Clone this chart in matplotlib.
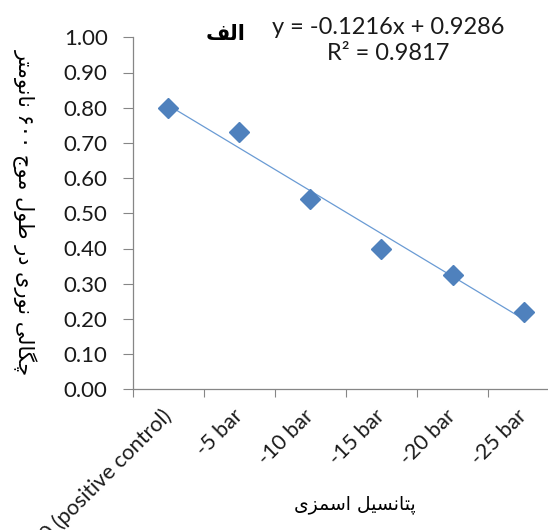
import matplotlib
matplotlib.use("Agg")
import matplotlib.pyplot as plt
import numpy as np

# ---- data ----
categories = ["0 (positive control)", "-5 bar", "-10 bar", "-15 bar", "-20 bar", "-25 bar"]
od_values = [0.80, 0.73, 0.54, 0.40, 0.325, 0.22]
slope = -0.1216
intercept = 0.9286
r_squared = 0.9817
y_ticks = [0.0, 0.1, 0.2, 0.3, 0.4, 0.5, 0.6, 0.7, 0.8, 0.9, 1.0]

title_fa = "الف"
xlabel_fa = "پتانسیل اسمزی"
ylabel_fa = "چگالی نوری در طول موج ۶۰۰ نانومتر"

# ---- minimal Persian shaping (presentation forms) + visual ordering ----
FORMS = {  # isolated, final, initial, medial
    "ا": ("\uFE8D", "\uFE8E", None, None),
    "د": ("\uFEA9", "\uFEAA", None, None),
    "ر": ("\uFEAD", "\uFEAE", None, None),
    "ز": ("\uFEAF", "\uFEB0", None, None),
    "و": ("\uFEED", "\uFEEE", None, None),
    "ل": ("\uFEDD", "\uFEDE", "\uFEDF", "\uFEE0"),
    "ف": ("\uFED1", "\uFED2", "\uFED3", "\uFED4"),
    "پ": ("\uFB56", "\uFB57", "\uFB58", "\uFB59"),
    "ت": ("\uFE95", "\uFE96", "\uFE97", "\uFE98"),
    "ن": ("\uFEE5", "\uFEE6", "\uFEE7", "\uFEE8"),
    "س": ("\uFEB1", "\uFEB2", "\uFEB3", "\uFEB4"),
    "ی": ("\uFBFC", "\uFBFD", "\uFBFE", "\uFBFF"),
    "م": ("\uFEE1", "\uFEE2", "\uFEE3", "\uFEE4"),
    "چ": ("\uFB7A", "\uFB7B", "\uFB7C", "\uFB7D"),
    "گ": ("\uFB92", "\uFB93", "\uFB94", "\uFB95"),
    "ط": ("\uFEC1", "\uFEC2", "\uFEC3", "\uFEC4"),
    "ج": ("\uFE9D", "\uFE9E", "\uFE9F", "\uFEA0"),
}


def dual(c):
    return c in FORMS and FORMS[c][2] is not None


def shape_fa(text):
    out = []
    for i, c in enumerate(text):
        if c not in FORMS:
            out.append(c)
            continue
        prev_c = text[i - 1] if i > 0 else ""
        next_c = text[i + 1] if i + 1 < len(text) else ""
        join_prev = dual(prev_c)
        join_next = dual(c) and next_c in FORMS
        iso, fin, ini, med = FORMS[c]
        if join_prev and join_next:
            out.append(med)
        elif join_prev:
            out.append(fin)
        elif join_next:
            out.append(ini)
        else:
            out.append(iso)
    # right-to-left: reverse, keeping digit runs in reading order
    rev = out[::-1]
    res, run = [], []
    for ch in rev:
        if ch.isdigit():
            run.append(ch)
        else:
            if run:
                res.extend(run[::-1])
                run = []
            res.append(ch)
    if run:
        res.extend(run[::-1])
    return "".join(res)


# ---- figure ----
plt.rcParams["font.family"] = ["Lato", "DejaVu Sans"]
fig = plt.figure(figsize=(5.48, 5.30), dpi=100)
ax = fig.add_axes([132.7 / 548, 140.7 / 530, 426.5 / 548, 352 / 530])

x = np.arange(1, len(categories) + 1)
axis_grey = "#868686"
label_color = "#1a1a1a"

# trendline from the fitted equation
xf = np.array([x[0], x[-1]])
ax.plot(xf, slope * xf + intercept, color="#6A9BD4", lw=0.9, zorder=2)
ax.plot(x, od_values, linestyle="none", marker="D", markersize=10.5,
        color="#4F81BD", markeredgecolor="#4F81BD", zorder=3)

ax.set_xlim(0.5, len(categories) + 0.5)
ax.set_ylim(0, 1)
ax.set_yticks(y_ticks)
ax.set_yticklabels([f"{v:.2f}" for v in y_ticks], fontsize=16, color=label_color)

ax.set_xticks(x)
ax.set_xticklabels(categories, rotation=45, ha="right", va="center",
                   rotation_mode="anchor", fontsize=15.5, color=label_color)
ax.set_xticks(np.arange(0.5, len(categories) + 1, 1.0), minor=True)
ax.tick_params(axis="x", which="major", length=0, pad=17)
ax.tick_params(axis="x", which="minor", length=6, width=0.8, color=axis_grey)
ax.tick_params(axis="y", length=7, width=0.8, color=axis_grey, pad=11)

for side in ("top", "right"):
    ax.spines[side].set_visible(False)
for side in ("left", "bottom"):
    ax.spines[side].set_color(axis_grey)
    ax.spines[side].set_linewidth(0.9)

# labels
fig.text(25 / 548, 1 - 212 / 530, shape_fa(ylabel_fa), rotation=270,
         ha="center", va="center", fontsize=15, family="DejaVu Sans")
fig.text(355 / 548, 1 - 505 / 530, shape_fa(xlabel_fa), ha="center",
         va="center", fontsize=13.5, family="DejaVu Sans")
fig.text(226 / 548, 1 - 34 / 530, shape_fa(title_fa), ha="center",
         va="center", fontsize=15, fontweight="bold", family="DejaVu Sans")

# equation and fit quality
fig.text(388 / 548, 1 - 28 / 530, f"y = {slope:.4f}x + {intercept:.4f}",
         ha="center", va="center", fontsize=17, color=label_color)
fig.text(388 / 548, 1 - 54 / 530, f"R² = {r_squared:.4f}",
         ha="center", va="center", fontsize=17, color=label_color)

fig.savefig("out.png", dpi=100)
